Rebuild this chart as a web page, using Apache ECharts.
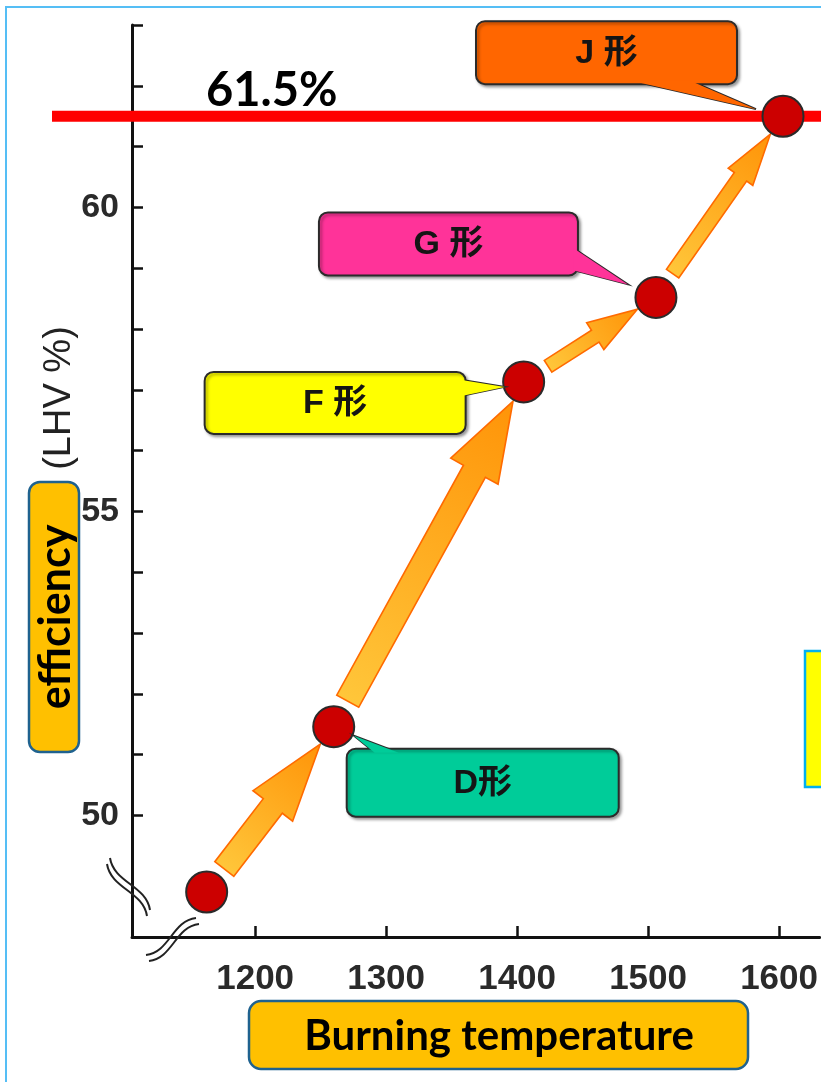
<!DOCTYPE html>
<html>
<head>
<meta charset="utf-8">
<script src="https://cdn.jsdelivr.net/npm/echarts@6/dist/echarts.min.js"></script>
<style>
html,body{margin:0;padding:0;background:#fff;}
#c{width:821px;height:1082px;}
</style>
</head>
<body>
<div id="c"></div>
<script>
// ---------------- DATA ----------------
const temperatures = [1163, 1260, 1405, 1506, 1603];          // burning temperature (°C)
const efficiencies = [48.74, 51.46, 57.13, 58.52, 61.5];      // efficiency (LHV %)
const turbineClasses = ['', 'D形', 'F 形', 'G 形', 'J 形'];
const xTickValues = [1200, 1300, 1400, 1500, 1600];
const yLabelValues = [50, 55, 60];
const yTickValues = [50, 51, 52, 53, 54, 55, 56, 57, 58, 59, 60, 61, 62, 63];
const targetEfficiency = [61.5];
const targetLabel = '61.5%';
const xAxisTitle = 'Burning temperature';
const yAxisTitle = 'efficiency';
const yAxisUnit = '(LHV %)';

// ---------------- STYLE / LAYOUT ----------------
const X_MIN = 1106, X_MAX = 1631, Y_MIN = 48, Y_MAX = 63;
const TICK_FONT = '"Liberation Sans", Arial, sans-serif';
const TITLE_FONT = 'Lato, "Open Sans", sans-serif';
const CJK_FONT = '"Liberation Sans", "Noto Sans CJK JP", "Noto Sans CJK SC", sans-serif';
const ARROW_SIZES = [
  {w: 24, hw: 50, hl: 78},
  {w: 25, hw: 54, hl: 80},
  {w: 14, hw: 32, hl: 50},
  {w: 15, hw: 30, hl: 52}
];
const TAIL_GAP = 29, TIP_GAP = 22;
// callout geometry relative to its point (pixels)
const CALLOUT_STYLE = {
  'J 形': {fill: '#FF6600', box: [-307, -95, 261, 63], wedge: [[-154, -36], [-94, -36], [-27, -7]]},
  'G 形': {fill: '#FF3399', box: [-337, -85, 259, 63], wedge: [[-82, -49], [-82, -27], [-28, -13]]},
  'F 形': {fill: '#FFFF00', box: [-319, -10, 261, 62], wedge: [[-62, -2], [-62, 14], [-19, 5]]},
  'D形':  {fill: '#00CC99', box: [13, 22, 272, 68], wedge: [[41, 26], [65, 26], [20, 9]]}
};

const arrowData = temperatures.slice(0, -1).map((t, i) =>
  [t, efficiencies[i], temperatures[i + 1], efficiencies[i + 1]]);
const pointData = temperatures.map((t, i) => [t, efficiencies[i]]);
const calloutData = temperatures.map((t, i) => [t, efficiencies[i], i])
  .filter(d => turbineClasses[d[2]]);

function renderArrow(params, api) {
  const a = api.coord([api.value(0), api.value(1)]);
  const b = api.coord([api.value(2), api.value(3)]);
  const s = ARROW_SIZES[params.dataIndex];
  const dx = b[0] - a[0], dy = b[1] - a[1], L = Math.hypot(dx, dy);
  const ux = dx / L, uy = dy / L, px = -uy, py = ux;
  const st = [a[0] + ux * TAIL_GAP, a[1] + uy * TAIL_GAP];
  const tip = [b[0] - ux * TIP_GAP, b[1] - uy * TIP_GAP];
  const neck = [tip[0] - ux * s.hl, tip[1] - uy * s.hl];
  const off = (p, k) => [p[0] + px * k, p[1] + py * k];
  const points = [off(st, s.w / 2), off(neck, s.w / 2), off(neck, s.hw / 2), tip,
                  off(neck, -s.hw / 2), off(neck, -s.w / 2), off(st, -s.w / 2)];
  return {
    type: 'polygon',
    shape: {points},
    style: {
      fill: {type: 'linear', x: st[0], y: st[1], x2: tip[0], y2: tip[1], global: true,
        colorStops: [{offset: 0, color: '#FFC63A'}, {offset: 1, color: '#FF9408'}]},
      stroke: '#FF6A00', lineWidth: 1.6
    }
  };
}

function renderCallout(params, api) {
  const c = api.coord([api.value(0), api.value(1)]);
  const name = turbineClasses[api.value(2)];
  const st = CALLOUT_STYLE[name];
  const wpts = st.wedge.map(p => [c[0] + p[0], c[1] + p[1]]);
  const bx = c[0] + st.box[0], by = c[1] + st.box[1];
  return {
    type: 'group',
    children: [
      {type: 'polygon', shape: {points: wpts},
       style: {fill: st.fill, stroke: '#2b2b2b', lineWidth: 1.8}},
      {type: 'rect', shape: {x: bx, y: by, width: st.box[2], height: st.box[3], r: 9},
       style: {fill: st.fill, stroke: '#2b2b2b', lineWidth: 2,
         shadowColor: 'rgba(0,0,0,0.35)', shadowBlur: 3, shadowOffsetX: 2, shadowOffsetY: 2}},
      {type: 'polygon', shape: {points: wpts}, style: {fill: st.fill}},
      {type: 'text', style: {text: name, x: bx + st.box[2] / 2, y: by + st.box[3] / 2 + 1,
        align: 'center', verticalAlign: 'middle', font: 'bold 34px ' + CJK_FONT, fill: '#151515'}}
    ]
  };
}

function renderTarget(params, api) {
  const y = api.coord([X_MIN, api.value(0)])[1];
  const cs = params.coordSys;
  return {
    type: 'group',
    children: [
      {type: 'line', shape: {x1: cs.x - 80, y1: y, x2: cs.x + cs.width + 5, y2: y},
       style: {stroke: '#FF0000', lineWidth: 11}},
      {type: 'text', z2: 10, style: {text: targetLabel, x: cs.x + 74, y: y - 25,
        align: 'left', verticalAlign: 'middle', font: 'bold 47px ' + TITLE_FONT, fill: '#000'}}
    ]
  };
}

function wave(x1, y1, x2, y2, amp, shift) {
  const dx = x2 - x1, dy = y2 - y1, L = Math.hypot(dx, dy);
  const px = -dy / L, py = dx / L;
  const sx = shift[0], sy = shift[1];
  return {
    type: 'bezierCurve', z: 4,
    shape: {
      x1: x1 + sx, y1: y1 + sy, x2: x2 + sx, y2: y2 + sy,
      cpx1: x1 + dx / 3 + px * amp + sx, cpy1: y1 + dy / 3 + py * amp + sy,
      cpx2: x1 + 2 * dx / 3 - px * amp + sx, cpy2: y1 + 2 * dy / 3 - py * amp + sy
    },
    style: {stroke: '#222', lineWidth: 2, fill: null}
  };
}

const chart = echarts.init(document.getElementById('c'), null, {renderer: 'canvas'});
chart.setOption({
  backgroundColor: '#ffffff',
  animation: false,
  grid: {left: 132, right: 0, top: 25, bottom: 145, containLabel: false},
  xAxis: {
    type: 'value', min: X_MIN, max: X_MAX,
    axisLine: {lineStyle: {color: '#111', width: 3}},
    axisTick: {inside: true, length: 11, customValues: xTickValues, lineStyle: {color: '#111', width: 2.5}},
    axisLabel: {customValues: xTickValues, formatter: v => String(v), fontSize: 35, fontFamily: TICK_FONT,
      fontWeight: 'bold', color: '#2a2a2a', margin: 25},
    splitLine: {show: false}
  },
  yAxis: {
    type: 'value', min: Y_MIN, max: Y_MAX,
    axisLine: {lineStyle: {color: '#111', width: 3}},
    axisTick: {inside: true, length: 11, customValues: yTickValues, lineStyle: {color: '#111', width: 2.5}},
    axisLabel: {customValues: yLabelValues, formatter: v => String(v), fontSize: 34, fontFamily: TICK_FONT,
      fontWeight: 'bold', color: '#2a2a2a', margin: 13},
    splitLine: {show: false}
  },
  series: [
    {type: 'custom', name: 'arrows', renderItem: renderArrow, data: arrowData,
     encode: {x: [0, 2], y: [1, 3]}, z: 3, clip: false, silent: true},
    {type: 'custom', name: 'target', renderItem: renderTarget, data: targetEfficiency.map(v => [v]),
     encode: {y: 0}, z: 4, clip: false, silent: true},
    {type: 'scatter', name: 'efficiency', data: pointData, symbolSize: 41, z: 5,
     itemStyle: {color: '#CC0000', borderColor: '#2a2a2a', borderWidth: 2, opacity: 1}},
    {type: 'custom', name: 'callouts', renderItem: renderCallout, data: calloutData,
     encode: {x: 0, y: 1}, z: 6, clip: false, silent: true}
  ],
  graphic: [
    {type: 'rect', z: 0, shape: {x: 6, y: 7, width: 900, height: 1200},
     style: {fill: null, stroke: '#55BEF5', lineWidth: 2}},
    {type: 'rect', z: 1, shape: {x: 805, y: 651, width: 40, height: 136},
     style: {fill: '#FFFF00', stroke: '#00B0F0', lineWidth: 2.5}},
    wave(110, 858, 150, 910, 12, [0, 0]),
    wave(110, 858, 150, 910, 12, [-3, 6]),
    wave(146, 955, 196, 918, 12, [0, 0]),
    wave(146, 955, 196, 918, 12, [3, 6]),
    {type: 'rect', z: 10, shape: {x: 249, y: 1001, width: 499, height: 68, r: 12},
     style: {fill: '#FFC000', stroke: '#1F628F', lineWidth: 2.5}},
    {type: 'text', z: 11, x: 499, y: 1036,
     style: {text: xAxisTitle, font: 'bold 42px ' + TITLE_FONT, fill: '#000', align: 'center', verticalAlign: 'middle'}},
    {type: 'rect', z: 10, shape: {x: 29, y: 482, width: 50, height: 270, r: 11},
     style: {fill: '#FFC000', stroke: '#1F628F', lineWidth: 2.5}},
    {type: 'text', z: 11, x: 56, y: 617, rotation: Math.PI / 2,
     style: {text: yAxisTitle, font: 'bold 43px ' + TITLE_FONT, fill: '#000', align: 'center', verticalAlign: 'middle'}},
    {type: 'text', z: 11, x: 60, y: 398, rotation: Math.PI / 2,
     style: {text: yAxisUnit, font: '38px ' + TICK_FONT, fill: '#222', align: 'center', verticalAlign: 'middle'}}
  ]
});
</script>
</body>
</html>
